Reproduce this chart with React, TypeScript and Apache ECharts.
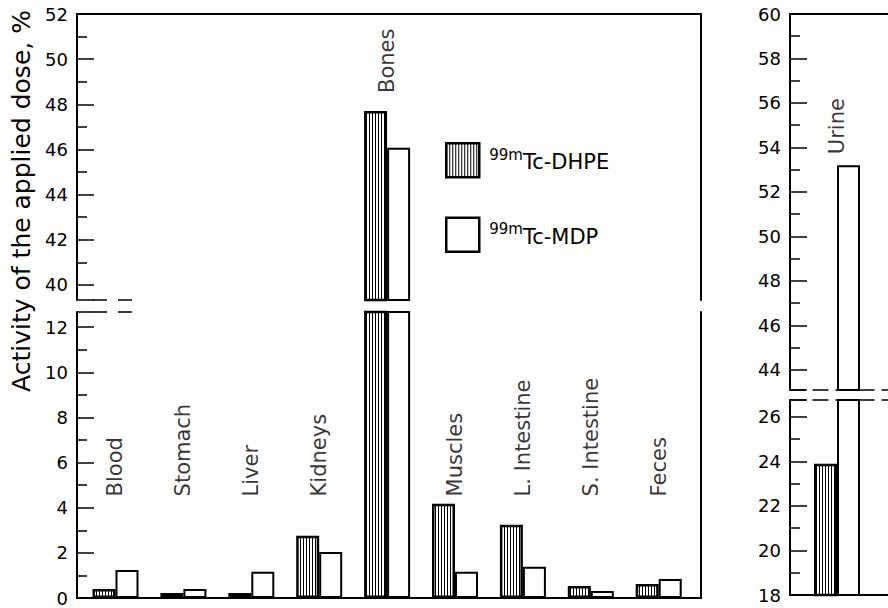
import React, { useEffect, useRef } from 'react';
import * as echarts from 'echarts';

// ---------- data ----------
const CATEGORIES = ['Blood', 'Stomach', 'Liver', 'Kidneys', 'Bones', 'Muscles', 'L. Intestine', 'S. Intestine', 'Feces'];
const DHPE_VALUES = [0.4, 0.22, 0.22, 2.76, 47.7, 4.18, 3.24, 0.53, 0.62];
const MDP_VALUES = [1.24, 0.4, 1.16, 2.04, 46.07, 1.16, 1.38, 0.31, 0.84];

const URINE_CATEGORIES = ['Urine', ''];
const URINE_DHPE = [23.9];
const URINE_MDP = [53.2];

const SERIES_NAMES = ['99mTc-DHPE', '99mTc-MDP'];

// axis ranges of the broken scales
const LEFT_UPPER_RANGE = [39.33, 52];
const LEFT_LOWER_RANGE = [0, 12.67];
const RIGHT_UPPER_RANGE = [43.1, 60];
const RIGHT_LOWER_RANGE = [18, 26.76];
const TICK_STEP = 2;

const Y_TITLE = 'Activity of the applied dose, %';

// label levels (value where rotated category labels start)
const LABEL_LEVEL_LOW = 4.5;
const LABEL_LEVEL_HIGH_LEFT = 48.5;
const LABEL_LEVEL_HIGH_RIGHT = 53.7;

const FONT = 'DejaVu Sans';

export default function App() {
  const ref = useRef<HTMLDivElement>(null);

  useEffect(() => {
    if (!ref.current) return;
    const chart = echarts.init(ref.current, null, { renderer: 'svg' });

    const cv = document.createElement('canvas');
    cv.width = 3;
    cv.height = 3;
    const ctx = cv.getContext('2d')!;
    ctx.fillStyle = '#fff';
    ctx.fillRect(0, 0, 3, 3);
    ctx.fillStyle = '#000';
    ctx.fillRect(0, 0, 1, 3);
    const hatch: any = { image: cv, repeat: 'repeat', imageWidth: 3, imageHeight: 3 };

    const dhpeStyle = { color: hatch, borderColor: '#000', borderWidth: 2.5 };
    const mdpStyle = { color: '#fff', borderColor: '#000', borderWidth: 2 };

    const xLeft = { min: -0.567, max: 8.623 };

    const axisLineStyle = (dashed: boolean) => ({
      show: true,
      onZero: false,
      lineStyle: { color: '#000', width: dashed ? 1.5 : 2, type: dashed ? [15, 8] : 'solid' },
    });

    const hiddenValueX = (gridIndex: number, range: any, position: string) => ({
      type: 'value',
      gridIndex,
      position,
      min: range.min,
      max: range.max,
      axisLine: axisLineStyle(false),
      axisTick: { show: false },
      axisLabel: { show: false },
      splitLine: { show: false },
    });

    const hiddenCategoryX = (gridIndex: number, position: string, dashed = false) => ({
      type: 'category',
      gridIndex,
      position,
      data: URINE_CATEGORIES,
      boundaryGap: true,
      axisLine: axisLineStyle(dashed),
      axisTick: { show: false },
      axisLabel: { show: false },
      splitLine: { show: false },
    });

    const valueY = (gridIndex: number, range: number[], hideMin: boolean, hideMax: boolean) => ({
      type: 'value',
      gridIndex,
      position: 'left',
      min: range[0],
      max: range[1],
      minInterval: TICK_STEP,
      maxInterval: TICK_STEP,
      axisLine: { show: true, onZero: false, lineStyle: { color: '#000', width: 2 } },
      axisTick: { show: true, inside: true, length: 17, lineStyle: { color: '#000', width: 1.5 } },
      minorTick: { show: true, splitNumber: 2, length: 10, lineStyle: { color: '#000', width: 1.5 } },
      axisLabel: {
        show: true,
        color: '#000',
        fontSize: 18,
        fontFamily: FONT,
        margin: 9,
        showMinLabel: !hideMin,
        showMaxLabel: !hideMax,
      },
      splitLine: { show: false },
      minorSplitLine: { show: false },
    });

    const lineY = (gridIndex: number, range: number[]) => ({
      type: 'value',
      gridIndex,
      position: 'right',
      min: range[0],
      max: range[1],
      axisLine: { show: true, onZero: false, lineStyle: { color: '#000', width: 2 } },
      axisTick: { show: false },
      axisLabel: { show: false },
      splitLine: { show: false },
    });

    const bar = (name: string, data: any[], xi: number, yi: number, style: any) => ({
      type: 'bar',
      name,
      xAxisIndex: xi,
      yAxisIndex: yi,
      data,
      barWidth: 23,
      barGap: '0%',
      clip: true,
      silent: true,
      itemStyle: style,
    });

    const labelSeries = (items: { name: string; value: number[] }[], xi: number, yi: number) => ({
      type: 'scatter',
      xAxisIndex: xi,
      yAxisIndex: yi,
      symbol: 'circle',
      symbolSize: 1,
      silent: true,
      itemStyle: { color: 'rgba(0,0,0,0)' },
      data: items,
      label: {
        show: true,
        position: 'inside',
        formatter: '{b}',
        rotate: 90,
        align: 'left',
        verticalAlign: 'middle',
        color: '#000',
        fontSize: 21,
        fontFamily: FONT,
      },
    });

    const leftLowerLabels: { name: string; value: number[] }[] = [];
    const leftUpperLabels: { name: string; value: number[] }[] = [];
    CATEGORIES.forEach((c, i) => {
      const top = Math.max(DHPE_VALUES[i], MDP_VALUES[i]);
      if (top > LEFT_LOWER_RANGE[1]) leftUpperLabels.push({ name: c, value: [i, LABEL_LEVEL_HIGH_LEFT] });
      else leftLowerLabels.push({ name: c, value: [i, LABEL_LEVEL_LOW] });
    });
    const rightLabels = URINE_DHPE.map((_, i) => ({ name: URINE_CATEGORIES[i], value: [i, LABEL_LEVEL_HIGH_RIGHT] }));

    const pairs = (values: number[]) => values.map((v, i) => [i, v]);

    const gridBase = { outerBoundsMode: 'none', containLabel: false };

    const option: any = {
      animation: false,
      backgroundColor: '#fff',
      grid: [
        { ...gridBase, left: 77, top: 14, width: 624, height: 286 },
        { ...gridBase, left: 77, top: 312, width: 624, height: 286 },
        { ...gridBase, left: 790, top: 14, width: 188, height: 376 },
        { ...gridBase, left: 790, top: 400, width: 188, height: 195 },
      ],
      xAxis: [
        hiddenValueX(0, xLeft, 'top'),
        hiddenValueX(1, xLeft, 'bottom'),
        hiddenCategoryX(2, 'top'),
        hiddenCategoryX(2, 'bottom', true),
        hiddenCategoryX(3, 'bottom'),
        hiddenCategoryX(3, 'top', true),
      ],
      yAxis: [
        valueY(0, LEFT_UPPER_RANGE, true, false),
        lineY(0, LEFT_UPPER_RANGE),
        valueY(1, LEFT_LOWER_RANGE, false, true),
        lineY(1, LEFT_LOWER_RANGE),
        valueY(2, RIGHT_UPPER_RANGE, true, false),
        valueY(3, RIGHT_LOWER_RANGE, false, true),
      ],
      legend: {
        orient: 'vertical',
        left: 445,
        top: 142,
        padding: 0,
        itemWidth: 33,
        itemHeight: 34,
        itemGap: 38,
        icon: 'rect',
        selectedMode: false,
        data: SERIES_NAMES,
        itemStyle: { borderColor: '#000', borderWidth: 2.5 },
        formatter: (name: string) => `{sup|${name.slice(0, 3)}}{main|${name.slice(3)}}`,
        textStyle: {
          color: '#000',
          fontFamily: FONT,
          padding: [4, 0, 0, 0],
          rich: {
            sup: { fontSize: 15, lineHeight: 15, verticalAlign: 'top', fontFamily: FONT, color: '#000', padding: [0, 0, 0, 5] },
            main: { fontSize: 21, lineHeight: 30, fontFamily: FONT, color: '#000' },
          },
        },
      },
      series: [
        bar(SERIES_NAMES[0], pairs(DHPE_VALUES), 0, 0, dhpeStyle),
        bar(SERIES_NAMES[1], pairs(MDP_VALUES), 0, 0, mdpStyle),
        bar(SERIES_NAMES[0], pairs(DHPE_VALUES), 1, 2, dhpeStyle),
        bar(SERIES_NAMES[1], pairs(MDP_VALUES), 1, 2, mdpStyle),
        bar(SERIES_NAMES[0], URINE_DHPE, 2, 4, dhpeStyle),
        bar(SERIES_NAMES[1], URINE_MDP, 2, 4, mdpStyle),
        bar(SERIES_NAMES[0], URINE_DHPE, 4, 5, dhpeStyle),
        bar(SERIES_NAMES[1], URINE_MDP, 4, 5, mdpStyle),
        labelSeries(leftLowerLabels, 1, 2),
        labelSeries(leftUpperLabels, 0, 0),
        labelSeries(rightLabels, 2, 4),
      ],
      graphic: [
        {
          type: 'text',
          x: 21,
          y: 201,
          rotation: Math.PI / 2,
          style: {
            text: Y_TITLE,
            fontSize: 25,
            fontFamily: FONT,
            fill: '#000',
            align: 'center',
            verticalAlign: 'middle',
          },
        },
        {
          type: 'line',
          shape: { x1: 93, y1: 300, x2: 134, y2: 300 },
          style: { stroke: '#000', lineWidth: 1.5, lineDash: [14, 11] },
        },
        {
          type: 'line',
          shape: { x1: 93, y1: 312, x2: 134, y2: 312 },
          style: { stroke: '#000', lineWidth: 1.5, lineDash: [14, 11] },
        },
      ],
    };

    chart.setOption(option);
    return () => chart.dispose();
  }, []);

  return (
    <div
      ref={ref}
      style={{ position: 'fixed', left: 0, top: 0, width: 888, height: 608, background: '#fff' }}
    />
  );
}
